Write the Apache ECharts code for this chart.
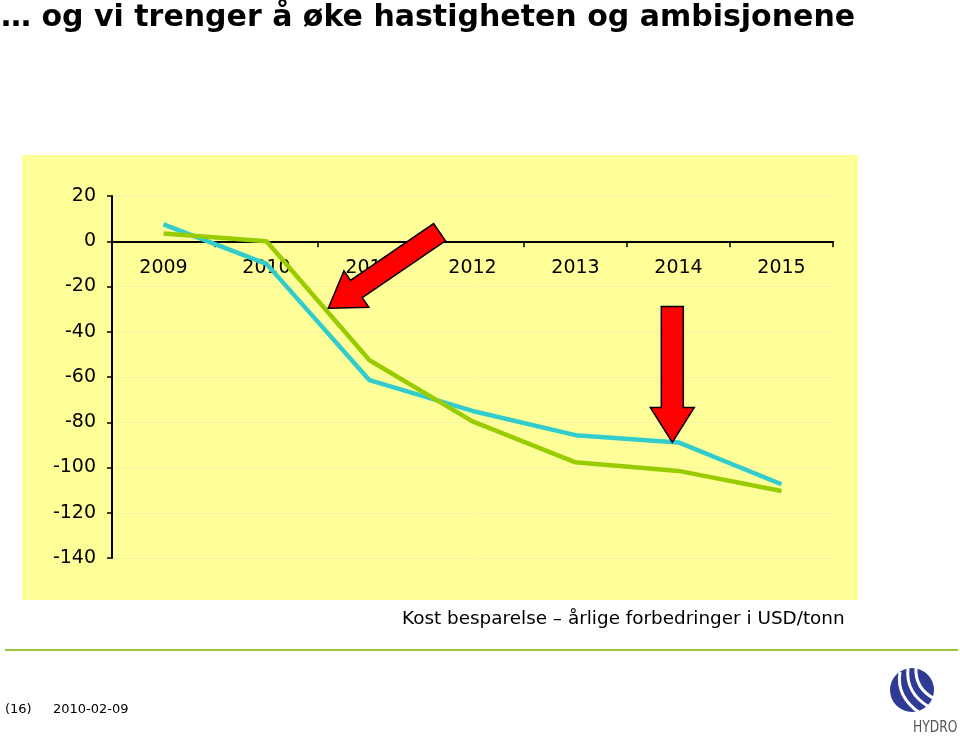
<!DOCTYPE html>
<html><head><meta charset="utf-8">
<script src="https://cdn.jsdelivr.net/npm/echarts@6/dist/echarts.min.js"></script>
<style>html,body{margin:0;padding:0;background:#fff}#c{width:960px;height:738px}</style>
</head><body><div id="c"></div>
<script>
const years = ['2009','2010','2011','2012','2013','2014','2015'];
const greenSeries = [3.4, 0, -52.6, -79.6, -97.7, -101.5, -110.4];
const cyanSeries = [7.5, -10, -61.4, -75, -85.7, -88.9, -107.4];
const yTicks = {min: -140, max: 20, step: 20};
// arrow annotations in data coordinates [fractional category index, value]
const arrow1Tip = [1.6, -29.6], arrow1Tail = [2.68, 4];
const arrow2Tip = [4.94, -88.9], arrow2Tail = [4.94, -28.8];

const chart = echarts.init(document.getElementById('c'));
const font = '"DejaVu Sans", Verdana, sans-serif';
const sail = (x1, y1, cx1, cy1, cx2, cy2, x2, y2) => ({
  type: 'bezierCurve', z: 5,
  shape: {x1, y1, cpx1: cx1, cpy1: cy1, cpx2: cx2, cpy2: cy2, x2, y2},
  style: {stroke: '#fff', lineWidth: 3, fill: null}
});
chart.setOption({
  animation: false,
  backgroundColor: '#fff',
  title: {
    text: '\u2026 og vi trenger \u00e5 \u00f8ke hastigheten og ambisjonene',
    left: -4, top: -2,
    textStyle: {fontFamily: '"DejaVu Sans"', fontWeight: 'bold', fontSize: 30, color: '#000'}
  },
  grid: {left: 112, right: 127, top: 196, bottom: 180},
  xAxis: {
    type: 'category', data: years, boundaryGap: true,
    axisLine: {onZero: true, lineStyle: {color: '#000', width: 2}},
    axisTick: {show: true, inside: false, length: 6, lineStyle: {color: '#000', width: 1.5}},
    axisLabel: {color: '#000', fontFamily: font, fontSize: 19, margin: -299},
    splitLine: {show: false}
  },
  yAxis: {
    type: 'value', min: yTicks.min, max: yTicks.max, interval: yTicks.step,
    axisLine: {show: true, lineStyle: {color: '#000', width: 2}},
    axisTick: {show: true, length: 5, lineStyle: {color: '#000', width: 1.5}},
    axisLabel: {color: '#000', fontFamily: font, fontSize: 19, margin: 16},
    splitLine: {show: true, lineStyle: {color: '#f5f2a8', width: 1}}
  },
  graphic: [
    {type: 'rect', z: -10, silent: true, shape: {x: 22, y: 155, width: 836, height: 445}, style: {fill: '#ffff99'}},
    {type: 'text', left: 402, top: 610, style: {text: 'Kost besparelse \u2013 \u00e5rlige forbedringer i USD/tonn', font: '18.4px ' + font, fill: '#000'}},
    {type: 'line', shape: {x1: 5, y1: 650, x2: 958, y2: 650}, style: {stroke: '#9cc63a', lineWidth: 2}},
    {type: 'text', left: 5, top: 703, style: {text: '(16)', font: '13px ' + font, fill: '#000'}},
    {type: 'text', left: 53, top: 703, style: {text: '2010-02-09', font: '13px ' + font, fill: '#000'}},
    {type: 'circle', z: 4, shape: {cx: 912, cy: 690, r: 22}, style: {fill: '#2e3a94'}},
    sail(900, 672, 897, 690, 905, 703, 920, 713),
    sail(908, 668, 906, 686, 914, 698, 929, 707),
    sail(916, 667, 915, 682, 921, 692, 935, 699),
    {type: 'text', x: 913, y: 721, scaleX: 0.82, style: {text: 'HYDRO', font: '15px "DejaVu Sans"', fill: '#555'}}
  ],
  series: [
    {type: 'line', data: greenSeries, symbol: 'none', lineStyle: {color: '#99cc00', width: 4.5}, z: 3},
    {type: 'line', data: cyanSeries, symbol: 'none', lineStyle: {color: '#33cccc', width: 4.5}, z: 2}
  ]
});

function toPx(d) {
  const i0 = Math.floor(d[0]), f = d[0] - i0;
  const a = chart.convertToPixel({gridIndex: 0}, [i0, d[1]]);
  const b = chart.convertToPixel({gridIndex: 0}, [i0 + 1, d[1]]);
  return [a[0] + (b[0] - a[0]) * f, a[1]];
}
function arrowPoints(tipD, tailD, shaftW, headW, headL) {
  const tip = toPx(tipD);
  const tail = toPx(tailD);
  const dx = tail[0] - tip[0], dy = tail[1] - tip[1];
  const L = Math.hypot(dx, dy);
  const ux = dx / L, uy = dy / L, nx = -uy, ny = ux;
  const hb = [tip[0] + ux * headL, tip[1] + uy * headL];
  const p = (b, w) => [b[0] + nx * w, b[1] + ny * w];
  return [tip, p(hb, headW / 2), p(hb, shaftW / 2), p(tail, shaftW / 2),
          p(tail, -shaftW / 2), p(hb, -shaftW / 2), p(hb, -headW / 2)];
}
chart.setOption({graphic: [
  {id: 'a1', type: 'polygon', z: 100, shape: {points: arrowPoints(arrow1Tip, arrow1Tail, 21, 44, 34)}, style: {fill: '#ff0000', stroke: '#000', lineWidth: 1.5}},
  {id: 'a2', type: 'polygon', z: 100, shape: {points: arrowPoints(arrow2Tip, arrow2Tail, 22, 44, 35)}, style: {fill: '#ff0000', stroke: '#000', lineWidth: 1.5}}
]});
</script></body></html>
